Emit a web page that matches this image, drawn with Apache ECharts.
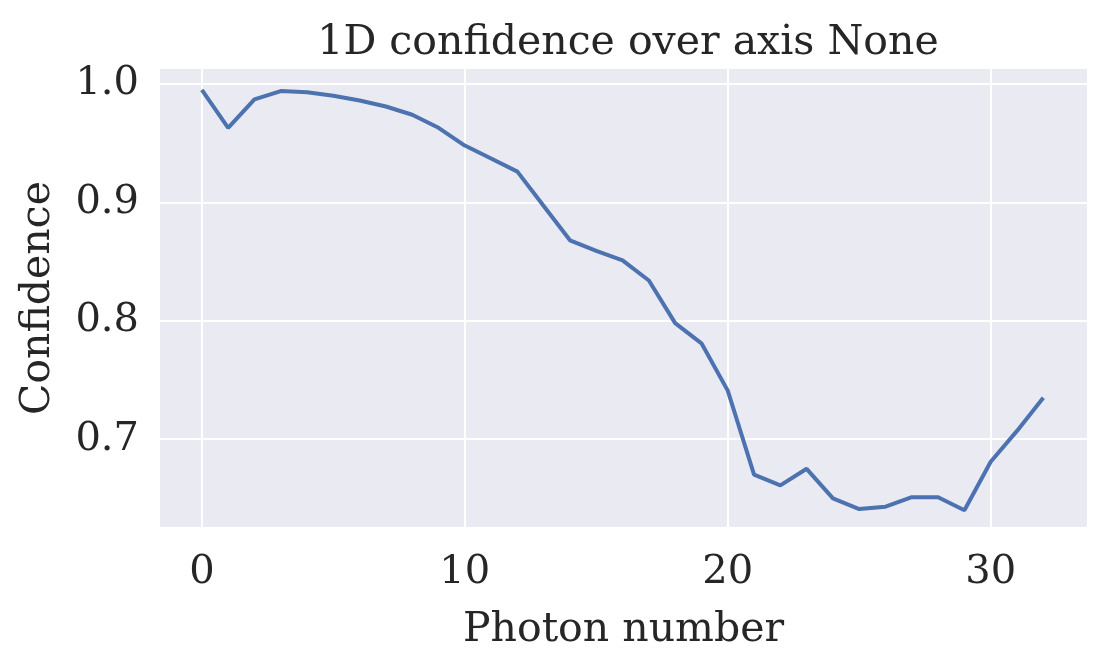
<!DOCTYPE html>
<html><head><meta charset="utf-8">
<script src="https://cdn.jsdelivr.net/npm/echarts@6/dist/echarts.min.js"></script>
<style>html,body{margin:0;padding:0;background:#fff}#c{width:1108px;height:666px}</style>
</head><body><div id="c"></div>
<script>
const photonNumbers = [0,1,2,3,4,5,6,7,8,9,10,11,12,13,14,15,16,17,18,19,20,21,22,23,24,25,26,27,28,29,30,31,32];
const confidence = [0.995,0.963,0.987,0.994,0.993,0.990,0.986,0.981,0.974,0.963,0.948,0.937,0.926,0.897,0.868,0.859,0.851,0.834,0.798,0.781,0.741,0.670,0.661,0.675,0.650,0.641,0.643,0.651,0.651,0.640,0.681,0.707,0.735];
const xTicks = [0,10,20,30];
const yTicks = [0.7,0.8,0.9,1.0];
const F = 'DejaVu Serif';
const chart = echarts.init(document.getElementById('c'));
chart.setOption({
  backgroundColor:'#fff',
  title:{text:'1D confidence over axis None',left:623,top:18,textAlign:'center',textStyle:{fontFamily:F,fontSize:41,fontWeight:'normal',color:'#262626'}},
  grid:{left:159,right:20,top:68,bottom:138,backgroundColor:'#EAEAF2',show:true,borderWidth:0},
  xAxis:{type:'value',min:-1.63,max:33.7,name:'Photon number',nameLocation:'middle',nameGap:82,
    nameTextStyle:{fontFamily:F,fontSize:41,color:'#262626'},
    axisLine:{show:false},axisTick:{show:false},
    axisLabel:{fontFamily:F,fontSize:40,color:'#262626',margin:25,
      customValues:xTicks,formatter:v=>String(v)},
    splitLine:{show:true,lineStyle:{color:'#fff',width:2}}},
  yAxis:{type:'value',min:0.625,max:1.0135,name:'Confidence',nameLocation:'middle',nameGap:100,
    nameTextStyle:{fontFamily:F,fontSize:41,color:'#262626'},
    axisLine:{show:false},axisTick:{show:false},
    axisLabel:{fontFamily:F,fontSize:40,color:'#262626',margin:20,customValues:yTicks,formatter:v=>v.toFixed(1)},
    splitLine:{show:true,lineStyle:{color:'#fff',width:2}}},
  series:[{type:'line',data:photonNumbers.map((x,i)=>[x,confidence[i]]),showSymbol:false,
    lineStyle:{color:'#4C72B0',width:4},animation:false}]
});
</script></body></html>
